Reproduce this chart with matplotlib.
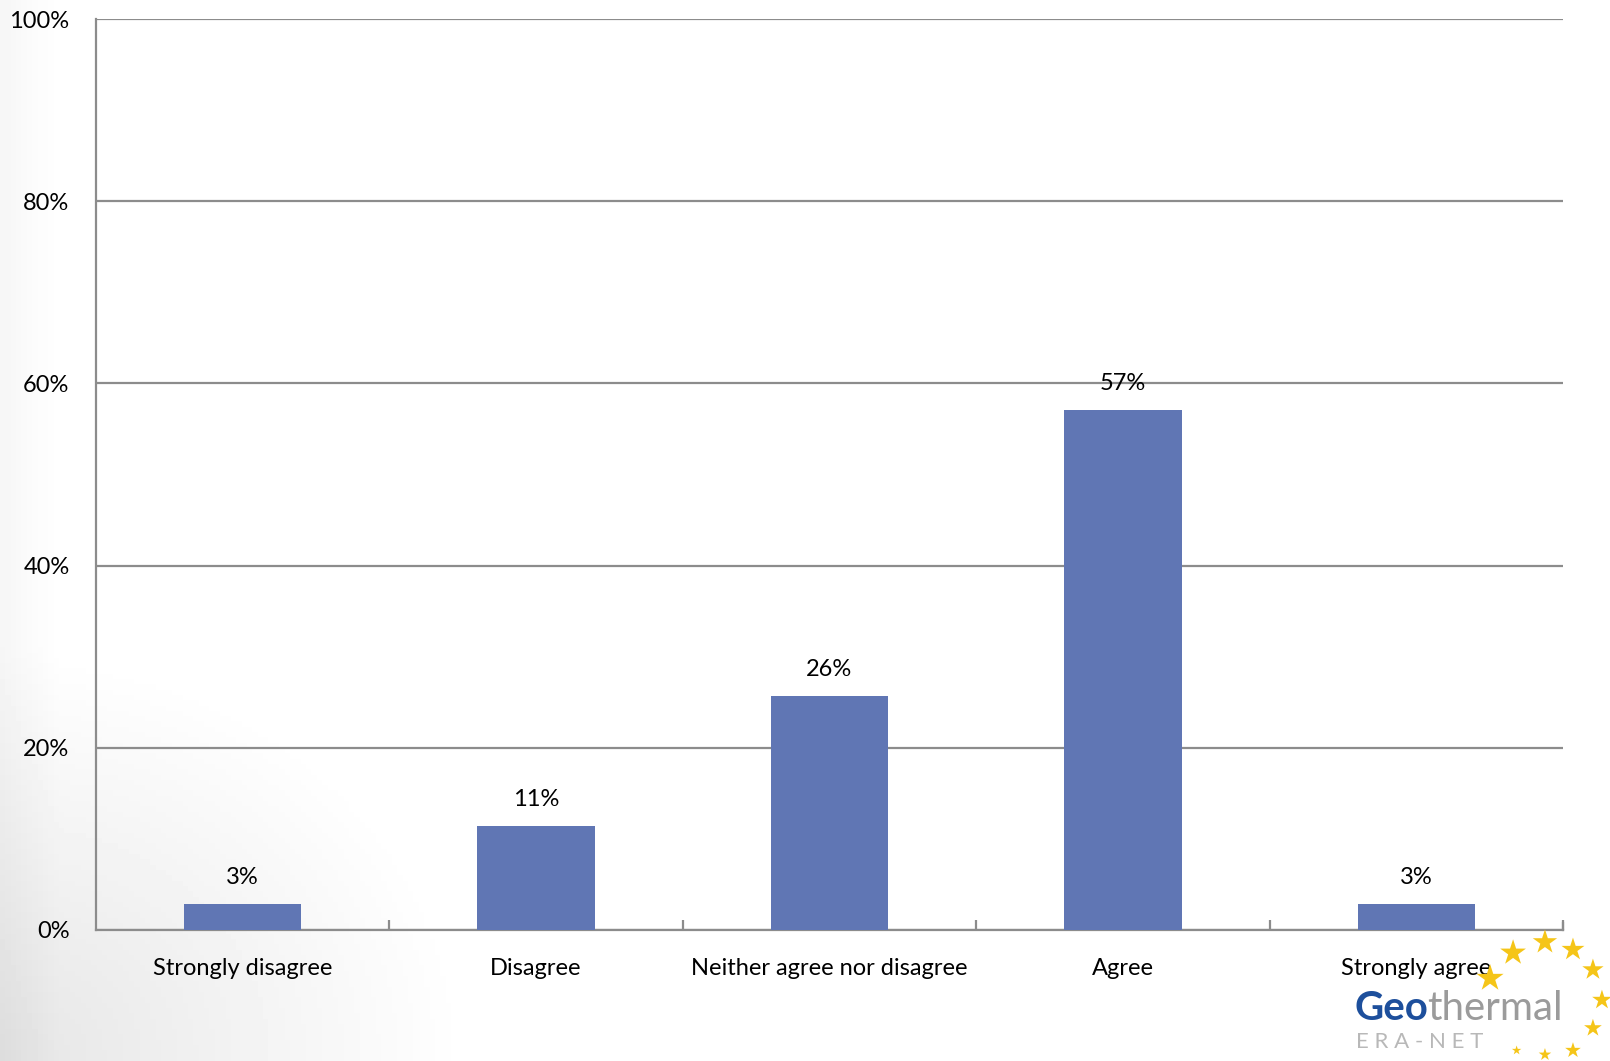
import matplotlib.pyplot as plt
import numpy as np
from matplotlib.ticker import FuncFormatter, MultipleLocator

categories = ['Strongly disagree', 'Disagree', 'Neither agree nor disagree',
              'Agree', 'Strongly agree']
values = [2.9, 11.4, 25.7, 57.1, 2.9]
value_labels = ['3%', '11%', '26%', '57%', '3%']

BAR_COLOR = '#6076b4'
GRID_COLOR = '#8c8c8c'

plt.rcParams['font.family'] = ['Lato', 'DejaVu Sans']


def main():
	fig = plt.figure(figsize=(16.1, 10.61), dpi=100)

	# soft grey shading along the left side of the slide
	bg = fig.add_axes([0, 0, 1, 1], zorder=-10)
	yy, xx = np.mgrid[0:1:200j, 0:1:300j]
	d = np.sqrt((xx * 1.2) ** 2 + ((1 - yy) * 0.9) ** 2)
	shade = np.clip(1 - d / 0.35, 0, 1) * 0.10 + np.clip(0.035 - xx, 0, 1) * 1.0
	bg.imshow(1 - shade, cmap='gray', vmin=0, vmax=1, extent=[0, 1, 0, 1],
	          aspect='auto', origin='upper')
	bg.set_axis_off()

	ax = fig.add_axes([0.0596, 0.1235, 0.9112, 0.8585])
	ax.patch.set_alpha(0)
	x = np.arange(len(categories))
	ax.bar(x, values, width=0.4, color=BAR_COLOR, zorder=3)

	for xi, v, lab in zip(x, values, value_labels):
		ax.annotate(lab, xy=(xi, v), xytext=(0, 19), textcoords='offset points',
		            ha='center', va='center', fontsize=17, color='black', zorder=4)

	ax.set_xlim(-0.5, len(categories) - 0.5)
	ax.set_ylim(0, 100)
	ax.yaxis.set_major_locator(MultipleLocator(20))
	ax.yaxis.set_major_formatter(FuncFormatter(lambda v, p: f'{v:.0f}%'))
	ax.grid(axis='y', color=GRID_COLOR, linewidth=1.6, zorder=0)
	ax.set_axisbelow(True)

	ax.set_xticks(x)
	ax.set_xticklabels(categories)
	ax.set_xticks(np.arange(0.5, len(categories)), minor=True)
	ax.tick_params(axis='x', which='major', length=0, pad=20, labelsize=17)
	ax.tick_params(axis='x', which='minor', direction='in', length=7,
	               width=1.6, color=GRID_COLOR)
	ax.tick_params(axis='y', length=0, pad=19, labelsize=17)

	for side in ['top', 'right']:
		ax.spines[side].set_visible(False)
	for side in ['left', 'bottom']:
		ax.spines[side].set_color(GRID_COLOR)
		ax.spines[side].set_linewidth(1.6)
	# right end tick of the x axis
	ax.plot([1, 1], [0, 0.008], transform=ax.transAxes, color=GRID_COLOR,
	        linewidth=1.6, clip_on=False)

	# Geothermal ERA-NET logo, bottom right
	geo = fig.text(0.8415, 0.032, 'Geo', fontsize=29, color='#1d4f9c',
	               fontweight='bold', ha='left', va='bottom', zorder=6)
	ax.annotate('thermal', xy=(1, 0), xycoords=geo, xytext=(-1, 0),
	            textcoords='offset points', fontsize=29, color='#9b9b9b',
	            ha='left', va='bottom', annotation_clip=False, zorder=6)
	fig.text(0.8425, 0.012, 'E R A - N E T', fontsize=16, color='#b8b8b8',
	         ha='left', va='baseline', zorder=6)

	star_x = [0.9255, 0.9398, 0.9596, 0.977, 0.9894, 0.995, 0.9894, 0.977, 0.9596, 0.942]
	star_y = [0.078, 0.102, 0.112, 0.105, 0.086, 0.0575, 0.031, 0.010, 0.006, 0.010]
	star_s = [420, 380, 340, 300, 260, 220, 180, 140, 90, 50]
	sax = fig.add_axes([0, 0, 1, 1], zorder=5)
	sax.set_xlim(0, 1)
	sax.set_ylim(0, 1)
	sax.set_axis_off()
	sax.scatter(star_x, star_y, s=star_s, marker='*', color='#f5c518',
	            edgecolors='none')

	fig.savefig('out.png', dpi=100)


if __name__ == '__main__':
	main()
